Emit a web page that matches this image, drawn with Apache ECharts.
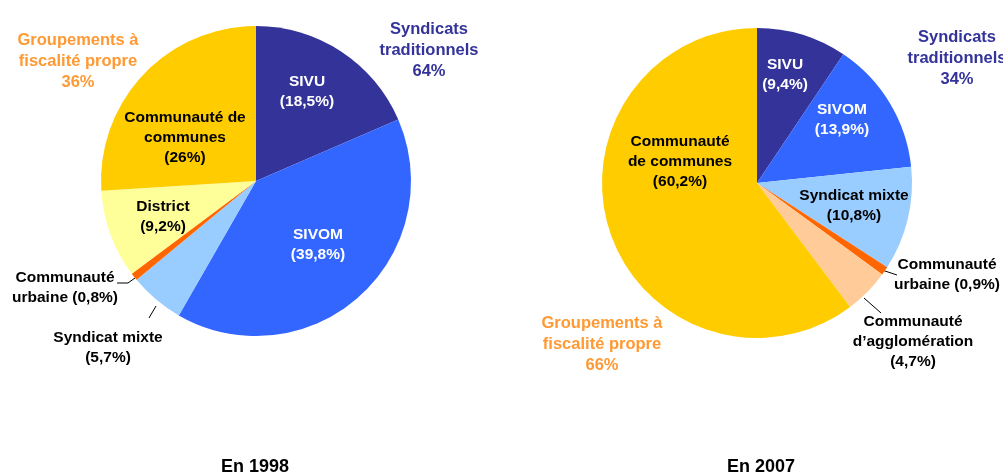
<!DOCTYPE html>
<html>
<head>
<meta charset="utf-8">
<script src="https://cdn.jsdelivr.net/npm/echarts@6/dist/echarts.min.js"></script>
<style>
  html, body { margin: 0; padding: 0; background: #fff; }
  #chart { width: 1003px; height: 473px; }
</style>
</head>
<body>
<div id="chart"></div>
<script>
// structures intercommunales, part en %
const names1998 = ['SIVU', 'SIVOM', 'Syndicat mixte', 'Communauté urbaine', 'District', 'Communauté de communes']
const values1998 = [18.5, 39.8, 5.7, 0.8, 9.2, 26]
const labels1998 = ['SIVU\n', 'SIVOM\n', 'Syndicat mixte\n', 'Communauté\nurbaine ', 'District\n', 'Communauté de\ncommunes\n']

const names2007 = ['SIVU', 'SIVOM', 'Syndicat mixte', 'Communauté urbaine', "Communauté d’agglomération", 'Communauté de communes']
const values2007 = [9.4, 13.9, 10.8, 0.9, 4.7, 60.2]
const labels2007 = ['SIVU\n', 'SIVOM\n', 'Syndicat mixte\n', 'Communauté\nurbaine ', 'Communauté\nd’agglomération\n', 'Communauté\nde communes\n']

const groupTrad = ['Syndicats\ntraditionnels\n64%', 'Syndicats\ntraditionnels\n34%']
const groupFisc = ['Groupements à\nfiscalité propre\n36%', 'Groupements à\nfiscalité propre\n66%']
const years = ['En 1998', 'En 2007']

const colors = {
  'SIVU': '#333399',
  'SIVOM': '#3366FF',
  'Syndicat mixte': '#99CCFF',
  'Communauté urbaine': '#FF6600',
  'District': '#FFFF99',
  'Communauté de communes': '#FFCC00',
  'Communauté d’agglomération': '#FFCC99'
}
const whiteText = ['SIVU', 'SIVOM']
const outside = [['Syndicat mixte', 'Communauté urbaine'], ['Communauté urbaine', 'Communauté d’agglomération']]

// placement des étiquettes (centre du texte) et des traits de rappel
const labelPos = [
  [
    { x: 307, y: 92 },
    { x: 318, y: 245 },
    { x: 108, y: 348, line: [[156, 306], [149, 318]] },
    { x: 65, y: 288, line: [[135, 278], [128, 283], [117, 283]] },
    { x: 163, y: 217 },
    { x: 185, y: 138 }
  ],
  [
    { x: 785, y: 75 },
    { x: 842, y: 120 },
    { x: 854, y: 206 },
    { x: 947, y: 275, line: [[882, 270], [897, 275]] },
    { x: 913, y: 342, line: [[864, 298], [881, 313]] },
    { x: 680, y: 162 }
  ]
]

const FONT = '"Liberation Sans", Arial, sans-serif'
const fmt = v => String(v).replace('.', ',')

function buildData (names, values, labels, idx) {
  return names.map((name, i) => {
    const out = outside[idx].indexOf(name) >= 0
    return {
      name: name,
      value: values[i],
      itemStyle: { color: colors[name] },
      label: {
        position: out ? 'outside' : 'inside',
        color: whiteText.indexOf(name) >= 0 ? '#fff' : '#000',
        formatter: labels[i] + '(' + fmt(values[i]) + '%)'
      },
      labelLine: { show: out }
    }
  })
}

function pieSeries (idx, center, names, values, labels) {
  return {
    type: 'pie',
    radius: 155,
    center: center,
    startAngle: 90,
    clockwise: true,
    avoidLabelOverlap: false,
    silent: true,
    animation: false,
    label: {
      show: true,
      fontFamily: FONT,
      fontWeight: 'bold',
      fontSize: 15.5,
      lineHeight: 20,
      align: 'center'
    },
    labelLine: {
      lineStyle: { color: '#000', width: 1 }
    },
    labelLayout: params => {
      const p = labelPos[idx][params.dataIndex]
      const res = { x: p.x, y: p.y, align: 'center', verticalAlign: 'middle' }
      if (p.line) res.labelLinePoints = p.line
      return res
    },
    data: buildData(names, values, labels, idx)
  }
}

const chart = echarts.init(document.getElementById('chart'))

const titleStyle = (color, size) => ({
  color: color,
  fontFamily: FONT,
  fontWeight: 'bold',
  fontSize: size,
  lineHeight: 21
})

chart.setOption({
  backgroundColor: '#fff',
  title: [
    { text: groupTrad[0], left: 424, top: 14, textAlign: 'center', textStyle: titleStyle('#333399', 16.5) },
    { text: groupTrad[1], left: 952, top: 22, textAlign: 'center', textStyle: titleStyle('#333399', 16.5) },
    { text: groupFisc[0], left: 73, top: 25, textAlign: 'center', textStyle: titleStyle('#FF9933', 16.5) },
    { text: groupFisc[1], left: 597, top: 308, textAlign: 'center', textStyle: titleStyle('#FF9933', 16.5) },
    { text: years[0], left: 250, top: 452, textAlign: 'center', textStyle: titleStyle('#000', 18) },
    { text: years[1], left: 756, top: 452, textAlign: 'center', textStyle: titleStyle('#000', 18) }
  ],
  series: [
    pieSeries(0, [256, 181], names1998, values1998, labels1998),
    pieSeries(1, [757, 183], names2007, values2007, labels2007)
  ]
})
</script>
</body>
</html>
